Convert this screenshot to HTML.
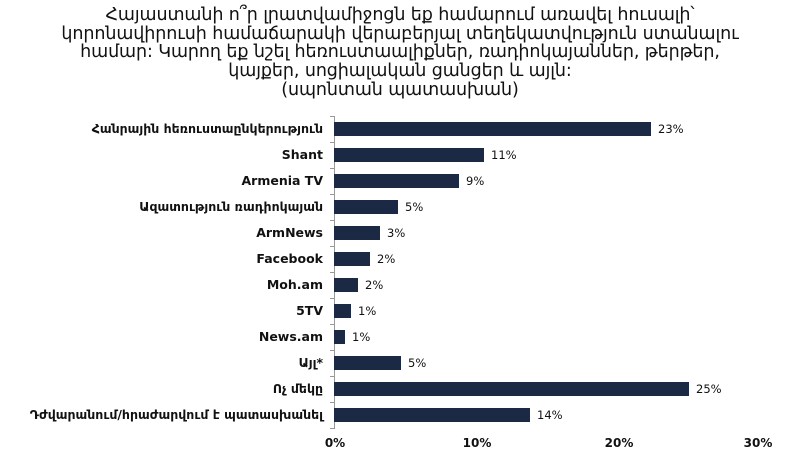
<!DOCTYPE html>
<html><head><meta charset="utf-8"><style>
body{margin:0;width:786px;height:458px;background:#fff;font-family:"DejaVu Sans","Liberation Sans",sans-serif;overflow:hidden;position:relative}
.t{position:absolute;left:0;width:800px;text-align:center;font-size:17.5px;font-weight:normal;color:#111;line-height:18.7px;top:6px;letter-spacing:-0.1px}
.l{position:absolute;right:463px;font-size:12.5px;font-weight:bold;color:#111;white-space:nowrap;text-align:right}
.b{position:absolute;left:334px;height:14px;background:#1b2945}
.v{position:absolute;font-size:11.5px;color:#111}
.x{position:absolute;top:436px;font-size:12px;font-weight:bold;color:#111;transform:translateX(-50%)}
</style></head><body>
<div class="t">Հայաստանի ո՞ր լրատվամիջոցն եք համարում առավել հուսալի՝<br>կորոնավիրուսի համաճարակի վերաբերյալ տեղեկատվություն ստանալու<br>համար: Կարող եք նշել հեռուստաալիքներ, ռադիոկայաններ, թերթեր,<br>կայքեր, սոցիալական ցանցեր և այլն:<br>(սպոնտան պատասխան)</div>
<svg style="position:absolute;left:0;top:0" width="786" height="458">
<line x1="334.5" y1="116" x2="334.5" y2="429" stroke="#999"/>
<g stroke="#999">
<line x1="330" y1="116.5" x2="334" y2="116.5"/><line x1="330" y1="142.5" x2="334" y2="142.5"/><line x1="330" y1="168.5" x2="334" y2="168.5"/><line x1="330" y1="194.5" x2="334" y2="194.5"/><line x1="330" y1="220.5" x2="334" y2="220.5"/><line x1="330" y1="246.5" x2="334" y2="246.5"/><line x1="330" y1="272.5" x2="334" y2="272.5"/><line x1="330" y1="298.5" x2="334" y2="298.5"/><line x1="330" y1="324.5" x2="334" y2="324.5"/><line x1="330" y1="350.5" x2="334" y2="350.5"/><line x1="330" y1="376.5" x2="334" y2="376.5"/><line x1="330" y1="402.5" x2="334" y2="402.5"/><line x1="330" y1="428.5" x2="334" y2="428.5"/>
</g></svg>
<div class="l" style="top:121px">Հանրային հեռուստաընկերություն</div><div class="b" style="top:122px;width:317px"></div><div class="v" style="left:658px;top:122px">23%</div>
<div class="l" style="top:147px">Shant</div><div class="b" style="top:148px;width:150px"></div><div class="v" style="left:491px;top:148px">11%</div>
<div class="l" style="top:173px">Armenia TV</div><div class="b" style="top:174px;width:125px"></div><div class="v" style="left:466px;top:174px">9%</div>
<div class="l" style="top:199px">Ազատություն ռադիոկայան</div><div class="b" style="top:200px;width:64px"></div><div class="v" style="left:405px;top:200px">5%</div>
<div class="l" style="top:225px">ArmNews</div><div class="b" style="top:226px;width:46px"></div><div class="v" style="left:387px;top:226px">3%</div>
<div class="l" style="top:251px">Facebook</div><div class="b" style="top:252px;width:36px"></div><div class="v" style="left:377px;top:252px">2%</div>
<div class="l" style="top:277px">Moh.am</div><div class="b" style="top:278px;width:24px"></div><div class="v" style="left:365px;top:278px">2%</div>
<div class="l" style="top:303px">5TV</div><div class="b" style="top:304px;width:17px"></div><div class="v" style="left:358px;top:304px">1%</div>
<div class="l" style="top:329px">News.am</div><div class="b" style="top:330px;width:11px"></div><div class="v" style="left:352px;top:330px">1%</div>
<div class="l" style="top:355px">Այլ*</div><div class="b" style="top:356px;width:67px"></div><div class="v" style="left:408px;top:356px">5%</div>
<div class="l" style="top:381px">Ոչ մեկը</div><div class="b" style="top:382px;width:355px"></div><div class="v" style="left:696px;top:382px">25%</div>
<div class="l" style="top:407px">Դժվարանում/հրաժարվում է պատասխանել</div><div class="b" style="top:408px;width:196px"></div><div class="v" style="left:537px;top:408px">14%</div>
<div class="x" style="left:335px">0%</div><div class="x" style="left:477px">10%</div><div class="x" style="left:619px">20%</div><div class="x" style="left:758px">30%</div>
</body></html>
